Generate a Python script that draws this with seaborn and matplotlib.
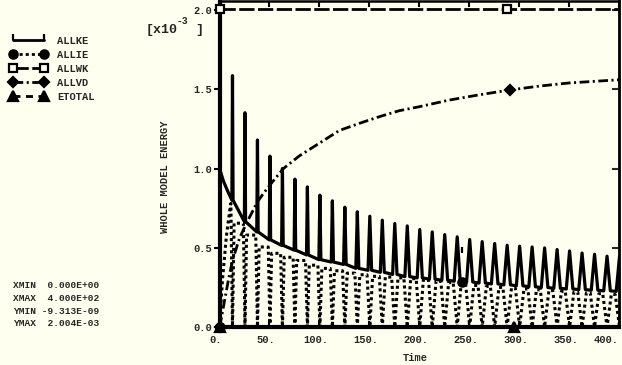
import matplotlib
matplotlib.use("Agg")
import matplotlib.pyplot as plt
import matplotlib.transforms as mtransforms
from matplotlib.lines import Line2D
from matplotlib.path import Path
import pandas as pd
import seaborn as sns

# energies in units of 1e-3 (as on the axis), time in s
spike_time = [13, 25.5, 38, 50.5, 63, 75.5, 88, 100.5, 113, 125.5, 138, 150.5,
              163, 175.5, 188, 200.5, 213, 225.5, 238, 250.5, 263, 275.5, 288,
              300.5, 313, 325.5, 338, 350.5, 363, 375.5, 388, 400.5]
ke_peak = [1.586, 1.352, 1.18, 1.078, 1.0, 0.933, 0.884, 0.832, 0.796, 0.756,
           0.727, 0.699, 0.674, 0.653, 0.638, 0.615, 0.600, 0.583, 0.569, 0.552,
           0.539, 0.527, 0.516, 0.510, 0.505, 0.499, 0.489, 0.480, 0.467, 0.459,
           0.447, 0.445]
ke_base = [0.80, 0.665, 0.60, 0.55, 0.515, 0.485, 0.455, 0.425, 0.41, 0.395,
           0.37, 0.358, 0.345, 0.332, 0.318, 0.31, 0.302, 0.295, 0.289, 0.284,
           0.277, 0.272, 0.266, 0.26, 0.254, 0.249, 0.244, 0.24, 0.236, 0.232,
           0.228, 0.225]
spike_halfwidth = [0.6, 0.6, 0.7, 0.7, 0.8, 0.8, 0.9, 1.0, 1.1, 1.3, 1.5, 1.8,
                   2.0, 2.2, 2.4, 2.6, 2.8, 2.9, 3.0, 3.1, 3.2, 3.3, 3.3, 3.3,
                   3.3, 3.3, 3.3, 3.3, 3.3, 3.3, 3.3, 3.3]
ie_top = [0.78, 0.655, 0.58, 0.505, 0.465, 0.44, 0.42, 0.39, 0.37, 0.355, 0.34,
          0.33, 0.32, 0.315, 0.31, 0.305, 0.298, 0.29, 0.28, 0.274, 0.262, 0.256,
          0.25, 0.245, 0.24, 0.235, 0.23, 0.225, 0.22, 0.215, 0.21, 0.205]

ke_start_time = [0, 4, 8]
ke_start = [1.0, 0.92, 0.86]
ie_start_time = [0, 3, 7, 11]
ie_start = [0.0, 0.30, 0.58, 0.77]

vd_time = [0, 2, 4, 9, 13, 20, 27, 38, 44, 51, 64, 80, 100, 120, 140, 160, 180,
           200, 230, 260, 290, 320, 350, 400]
vd = [0, 0.06, 0.13, 0.30, 0.42, 0.56, 0.655, 0.79, 0.843, 0.9, 1.0, 1.08, 1.16,
      1.24, 1.285, 1.327, 1.365, 1.39, 1.432, 1.465, 1.495, 1.52, 1.54, 1.56]

wk_time = [0, 400]
wk = [2.004, 2.004]
etotal_time = [0, 400]
etotal = [0.0, 0.0]

# symbols abaqus puts on each curve
mark_time = {"ALLKE": [0, 242.5], "ALLIE": [0, 243], "ALLWK": [0, 288],
             "ALLVD": [0, 291], "ETOTAL": [0, 295]}
mark_value = {"ALLKE": [1.0, 0.47], "ALLIE": [0.0, 0.284], "ALLWK": [2.004, 2.004],
              "ALLVD": [0.0, 1.495], "ETOTAL": [0.0, 0.0]}

x_ticks = [0, 50, 100, 150, 200, 250, 300, 350, 400]
x_tick_labels = ["0.", "50.", "100.", "150.", "200.", "250.", "300.", "350.", "400."]
y_ticks = [0.0, 0.5, 1.0, 1.5, 2.0]
y_tick_labels = ["0.0", "0.5", "1.0", "1.5", "2.0"]
info_lines = ["XMIN  0.000E+00", "XMAX  4.000E+02", "YMIN -9.313E-09", "YMAX  2.004E-03"]

# build the curves from the read peaks / troughs
ke_t, ke_v = list(ke_start_time), list(ke_start)
ie_t, ie_v = list(ie_start_time), list(ie_start)
for i, ts in enumerate(spike_time):
    hw = spike_halfwidth[i]
    ke_t += [ts - hw, ts, ts + hw]
    ke_v += [ke_base[i], ke_peak[i], ke_base[i]]
    nxt = ie_top[i + 1] if i + 1 < len(ie_top) else ie_top[i]
    ie_t += [ts - hw - 1, ts, ts + hw + 1]
    ie_v += [ie_top[i], 0.0, nxt]

curves = {
    "ALLKE": pd.DataFrame({"t": ke_t, "e": ke_v}),
    "ALLIE": pd.DataFrame({"t": ie_t, "e": ie_v}),
    "ALLWK": pd.DataFrame({"t": wk_time, "e": wk}),
    "ALLVD": pd.DataFrame({"t": vd_time, "e": vd}),
    "ETOTAL": pd.DataFrame({"t": etotal_time, "e": etotal}),
}

bg = "#fffff0"
sns.set_theme(style="white")
plt.rcParams["font.family"] = ["Liberation Mono", "DejaVu Sans Mono"]
plt.rcParams["font.weight"] = "bold"
plt.rcParams["lines.scale_dashes"] = False

tick = Path([(0, 0), (0, 1)])
styles = {
    "ALLKE": dict(ls="-", lw=2.3, marker=tick, ms=9, mfc="black"),
    "ALLIE": dict(ls=(0, (2.2, 2.2)), lw=2.2, marker="o", ms=6, mfc="black"),
    "ALLWK": dict(ls=(0, (11, 2.5)), lw=2.0, marker="s", ms=5.5, mfc=bg),
    "ALLVD": dict(ls=(0, (7, 2.5, 1.5, 2.5)), lw=2.0, marker="D", ms=5, mfc="black"),
    "ETOTAL": dict(ls=(0, (5, 4)), lw=2.0, marker="^", ms=6.5, mfc="black"),
}

fig = plt.figure(figsize=(6.22, 3.65), dpi=100, facecolor=bg)
ax = fig.add_axes([0.3529, 0.1041, 0.6423, 0.8918], facecolor=bg)

for name in ["ALLIE", "ALLVD", "ALLWK", "ETOTAL", "ALLKE"]:
    st = styles[name]
    sns.lineplot(data=curves[name], x="t", y="e", ax=ax, color="black", lw=st["lw"],
                 linestyle=st["ls"], estimator=None, sort=False, legend=False)
    ax.plot(mark_time[name], mark_value[name], ls="none", marker=st["marker"],
            ms=st["ms"], mfc=st["mfc"], mec="black", mew=1.6, clip_on=False, zorder=5)

ax.set_xlim(0, 400)
ax.set_ylim(0, 2.054)
ax.set_xlabel("")
ax.set_ylabel("")

for side, w in [("left", 3.0), ("bottom", 3.0), ("top", 1.8), ("right", 1.8)]:
    ax.spines[side].set_visible(True)
    ax.spines[side].set_color("black")
    ax.spines[side].set_linewidth(w)

ax.set_xticks(x_ticks)
ax.set_xticklabels(x_tick_labels)
ax.set_yticks(y_ticks)
ax.set_yticklabels(y_tick_labels)
ax.tick_params(axis="x", direction="in", length=4, width=1.5, color="black",
               bottom=True, top=True, labelsize=7.5, pad=6)
ax.tick_params(axis="y", direction="out", length=4, width=1.5, color="black",
               left=True, right=False, labelsize=7.5, pad=1.5)
ax.grid(False)

# right axis ticks point inward
sec = ax.secondary_yaxis("right")
sec.set_yticks(y_ticks)
sec.tick_params(direction="in", length=5, width=1.5, labelright=False)
sec.spines["right"].set_linewidth(1.8)

shift = mtransforms.ScaledTranslation(-3.5 / 100, 0, fig.dpi_scale_trans)
for lab in ax.get_xticklabels():
    lab.set_transform(lab.get_transform() + shift)
ax.get_xticklabels()[-1].set_horizontalalignment("right")
ax.get_xticklabels()[-1].set_transform(ax.get_xticklabels()[-1].get_transform()
                                       + mtransforms.ScaledTranslation(3.5 / 100, 0, fig.dpi_scale_trans))

W, H = 622, 365
fig.text(415.5 / W, 1 - 358 / H, "Time", fontsize=7.5, ha="center", va="center")
fig.text(165 / W, 1 - 176.5 / H, "WHOLE MODEL ENERGY", fontsize=7.5, rotation=90,
         ha="center", va="center")
fig.text(146 / W, 1 - 29.5 / H, "[x10", fontsize=9.5, ha="left", va="center")
fig.text(177 / W, 1 - 21 / H, "-3", fontsize=7, ha="left", va="center")
fig.text(195 / W, 1 - 29.5 / H, "]", fontsize=9.5, ha="left", va="center")

for k, line in enumerate(info_lines):
    fig.text(13 / W, 1 - [286, 298.5, 312, 323][k] / H, line, fontsize=6.8,
             ha="left", va="center")

handles = []
for name in ["ALLKE", "ALLIE", "ALLWK", "ALLVD", "ETOTAL"]:
    st = styles[name]
    handles.append(Line2D([], [], color="black", lw=2.0, ls=st["ls"], marker=st["marker"],
                          ms=st["ms"], mfc=st["mfc"], mec="black", mew=1.6, label=name))
fig.legend(handles=handles, loc="upper left", bbox_to_anchor=(10 / W, 1 - 36 / H),
           frameon=False, numpoints=2, handlelength=3.6, handletextpad=0.95,
           labelspacing=0.38, fontsize=7.5, borderpad=0, borderaxespad=0)

fig.savefig("out.png", dpi=100, facecolor=bg)
